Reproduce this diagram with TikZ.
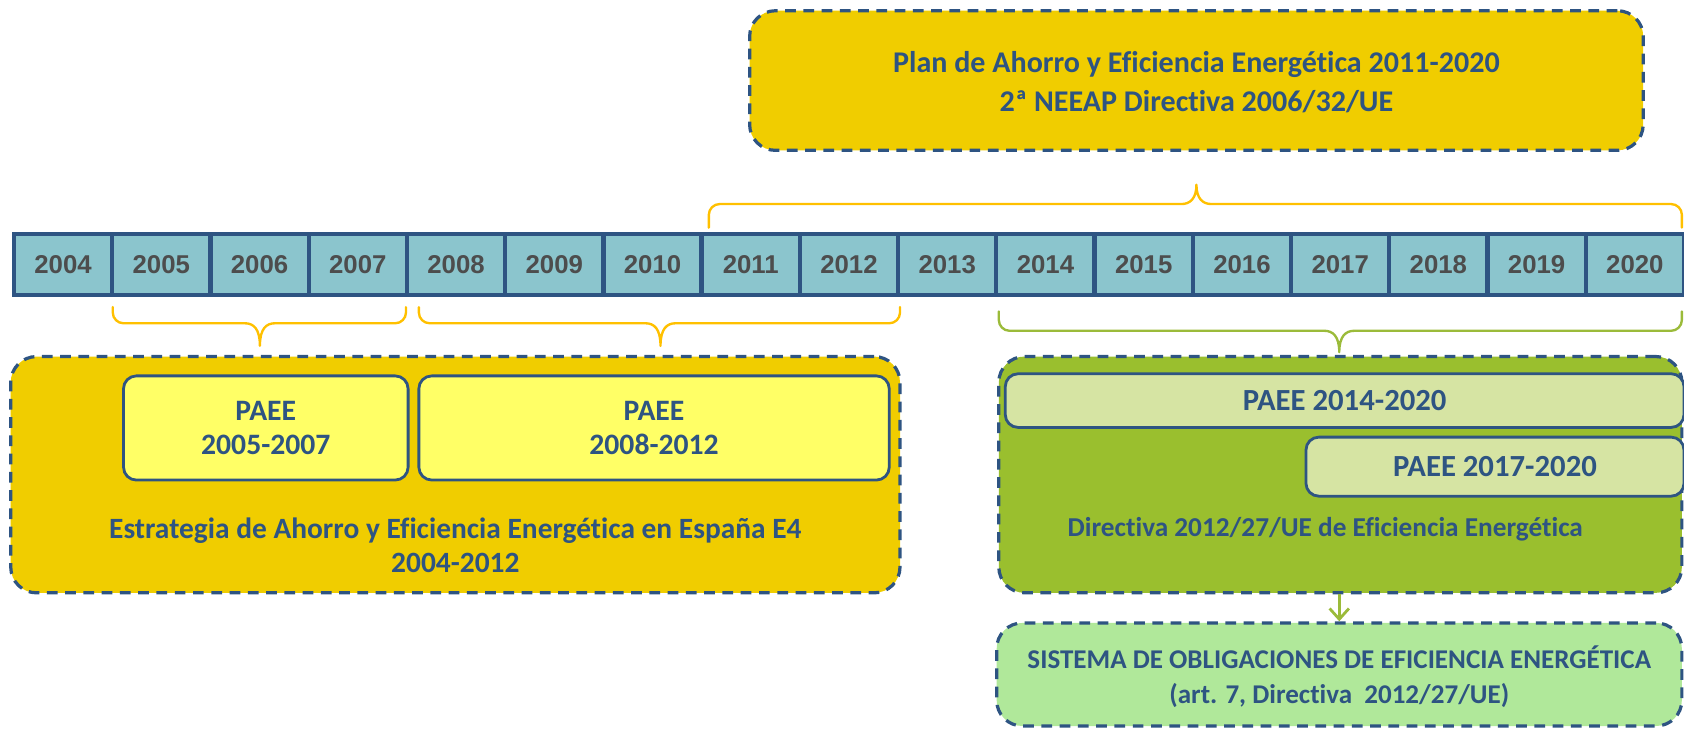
\documentclass[tikz,border=0pt]{standalone}
\usepackage{fontspec}
\setmainfont{Carlito}[Ligatures=NoCommon]
\newfontfamily\yearfont{Liberation Sans}
\usetikzlibrary{arrows.meta}
\definecolor{dblue}{RGB}{46,84,130}
\definecolor{gold}{RGB}{240,205,0}
\definecolor{tealc}{RGB}{139,197,205}
\definecolor{braceor}{RGB}{255,192,0}
\definecolor{bracegr}{RGB}{155,187,58}
\definecolor{lyellow}{RGB}{255,255,102}
\definecolor{gbox}{RGB}{154,191,46}
\definecolor{pgreen}{RGB}{214,228,163}
\definecolor{lgreen}{RGB}{176,232,154}
\definecolor{ygray}{RGB}{77,77,77}
\newcommand\mybrace[7]{%
  \pgfmathsetmacro\brsgn{(#5>#6)?1:-1}%
  \draw[brc,#1] (#2,#5) -- (#2,{#6+10*\brsgn})
    .. controls (#2,{#6+4.5*\brsgn}) and ({#2+4.5},#6) .. ({#2+10},#6)
    -- ({#4-14},#6)
    .. controls ({#4-6},#6) and (#4,{#6-5*\brsgn}) .. (#4,#7)
    .. controls (#4,{#6-5*\brsgn}) and ({#4+6},#6) .. ({#4+14},#6)
    -- ({#3-10},#6)
    .. controls ({#3-4.5},#6) and (#3,{#6+4.5*\brsgn}) .. (#3,{#6+10*\brsgn})
    -- (#3,#5);}
\begin{document}
\begin{tikzpicture}[x=0.5pt,y=-0.5pt,
  dbox/.style={draw=dblue, line width=1.5pt, dash pattern=on 5pt off 3.5pt, rounded corners=12pt, inner sep=0pt},
  ibox/.style={draw=dblue, line width=1.3pt, rounded corners=6pt, inner sep=0pt},
  lbl/.style={text=dblue, font=\bfseries\fontsize{13.7}{16}\selectfont, align=center},
  paee/.style={text=dblue, font=\bfseries\fontsize{13.8}{16}\selectfont, align=center},
  yearcell/.style={draw=dblue, line width=2pt, fill=tealc, minimum width=45.735pt, minimum height=28.5pt, inner sep=0pt, text=ygray, font=\yearfont\bfseries\fontsize{12}{14}\selectfont},
  brc/.style={line width=1.1pt, line cap=round, line join=round},
]
\useasboundingbox (0,0) rectangle (1568,678);

% top box
\node[dbox, fill=gold, minimum width=416pt, minimum height=65pt] (plan) at (1114,75) {};
\node[lbl, font=\bfseries\fontsize{14}{18.5}\selectfont] (plantxt) at (1114,76.5) {Plan de Ahorro y Eficiencia Energética 2011-2020\\2ª NEEAP Directiva 2006/32/UE};

% top brace
\mybrace{braceor}{660}{1566}{1114}{212}{190}{172}

% timeline
\foreach \i in {0,...,16} {
  \pgfmathtruncatemacro\yr{2004+\i}
  \node[yearcell] (y\yr) at ({13+91.47*(\i+0.5)},246.5) {\yr};
}

% lower braces
\mybrace{braceor}{105}{378}{242}{286}{301}{322}
\mybrace{braceor}{390}{838}{615}{286}{301}{322}
\mybrace{bracegr}{930}{1566}{1247}{290}{308}{328}

% left box
\node[dbox, fill=gold, minimum width=414pt, minimum height=110pt] (e4) at (424,442) {};
\node[ibox, fill=lyellow, minimum width=132.5pt, minimum height=48.5pt, paee] (p1) at (247.5,398.5) {PAEE\\2005-2007};
\node[ibox, fill=lyellow, minimum width=219pt, minimum height=48.5pt, paee] (p2) at (609,398.5) {PAEE\\2008-2012};
\node[lbl] (e4txt) at (424,508) {Estrategia de Ahorro y Eficiencia Energética en España E4\\2004-2012};

% right green box
\node[dbox, fill=gbox, minimum width=318pt, minimum height=110pt] (dir) at (1248,442) {};
\node[ibox, fill=pgreen, minimum width=316pt, minimum height=25pt, paee, font=\bfseries\fontsize{14.3}{16}\selectfont] (p3) at (1252,373) {PAEE 2014-2020};
\node[ibox, fill=pgreen, minimum width=176pt, minimum height=27.5pt, paee, font=\bfseries\fontsize{14.3}{16}\selectfont] (p4) at (1392,434.5) {PAEE 2017-2020};
\node[lbl, font=\bfseries\fontsize{12.7}{14}\selectfont] (dirtxt) at (1234,493) {Directiva 2012/27/UE de Eficiencia Energética};

% bottom box
\node[dbox, fill=lgreen, minimum width=319pt, minimum height=48pt] (sis) at (1247,628) {};
\node[lbl, font=\bfseries\fontsize{12.6}{16}\selectfont] (sistxt) at (1247,630) {SISTEMA DE OBLIGACIONES DE EFICIENCIA ENERGÉTICA\\(art. 7, Directiva~ 2012/27/UE)};

% arrow
\draw[bracegr, line width=1.3pt, -{Straight Barb[length=5pt,width=9pt,line width=1.3pt]}] (dir.south -| sis.north) -- (sis.north);
\end{tikzpicture}
\end{document}
